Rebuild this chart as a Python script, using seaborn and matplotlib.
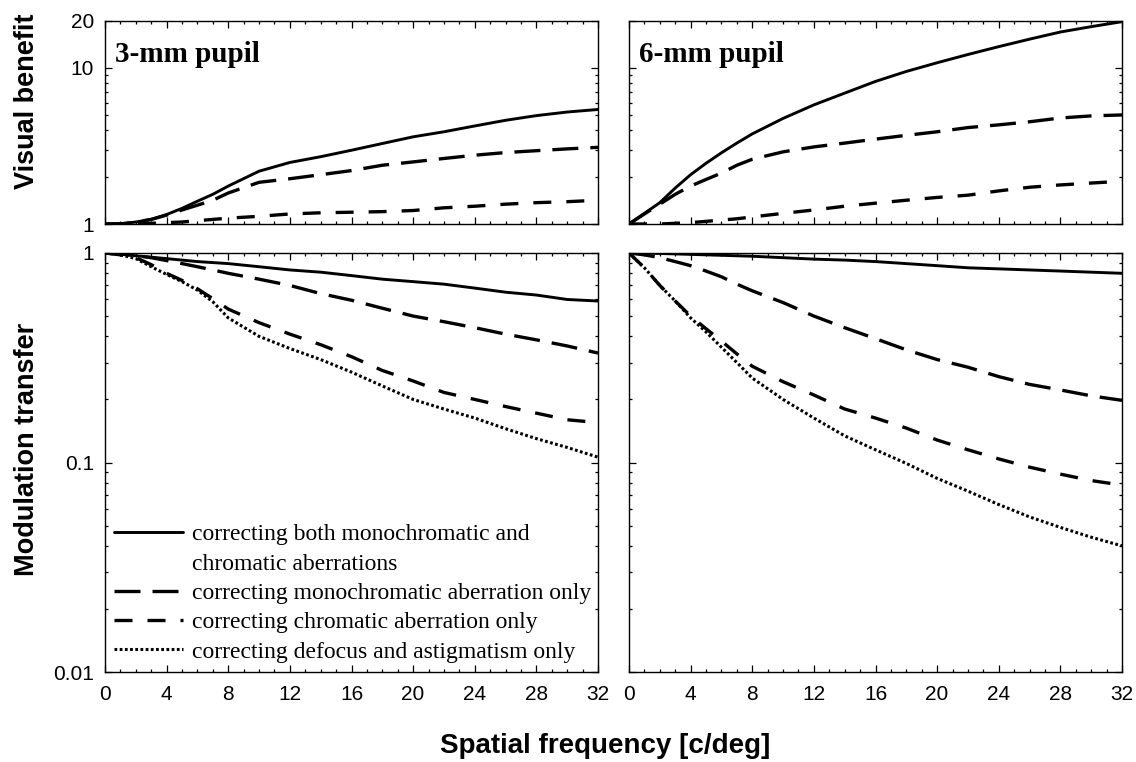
import matplotlib
matplotlib.use("Agg")
import numpy as np
import pandas as pd
import matplotlib.pyplot as plt
from matplotlib.lines import Line2D
from matplotlib.ticker import FixedLocator, FixedFormatter, LogLocator, NullFormatter, MultipleLocator
import seaborn as sns

# ---------------- data ----------------
freq = [0, 1, 2, 3, 4, 5, 6, 7, 8, 10, 12, 14, 16, 18, 20, 22, 24, 26, 28, 30, 32]

series_names = [
    "correcting both monochromatic and\nchromatic aberrations",
    "correcting monochromatic aberration only",
    "correcting chromatic aberration only",
    "correcting defocus and astigmatism only",
]

# Visual benefit, 3-mm pupil
vb3_both = [1.0, 1.0, 1.03, 1.07, 1.15, 1.26, 1.40, 1.55, 1.75, 2.18, 2.48, 2.70, 2.97, 3.28, 3.62, 3.90, 4.25, 4.62, 4.95, 5.22, 5.42]
vb3_mono = [1.0, 1.0, 1.03, 1.07, 1.14, 1.23, 1.32, 1.42, 1.58, 1.85, 1.95, 2.07, 2.20, 2.38, 2.50, 2.63, 2.76, 2.87, 2.95, 3.03, 3.10]
vb3_chrom = [1.0, 1.0, 1.0, 1.01, 1.02, 1.03, 1.05, 1.07, 1.09, 1.12, 1.16, 1.18, 1.19, 1.20, 1.22, 1.27, 1.30, 1.34, 1.37, 1.39, 1.42]

# Visual benefit, 6-mm pupil
vb6_both = [1.0, 1.17, 1.37, 1.70, 2.07, 2.45, 2.86, 3.30, 3.78, 4.75, 5.80, 6.90, 8.20, 9.50, 10.8, 12.2, 13.7, 15.3, 17.0, 18.4, 19.8]
vb6_mono = [1.0, 1.16, 1.34, 1.55, 1.75, 1.93, 2.12, 2.38, 2.60, 2.90, 3.12, 3.30, 3.50, 3.70, 3.90, 4.15, 4.32, 4.52, 4.78, 4.93, 5.00]
vb6_chrom = [1.0, 1.0, 1.0, 1.01, 1.02, 1.04, 1.06, 1.08, 1.11, 1.17, 1.23, 1.30, 1.36, 1.42, 1.48, 1.53, 1.63, 1.72, 1.78, 1.83, 1.88]

# Modulation transfer, 3-mm pupil
mt3_both = [1.0, 0.99, 0.97, 0.955, 0.94, 0.925, 0.91, 0.90, 0.89, 0.86, 0.83, 0.81, 0.78, 0.75, 0.73, 0.71, 0.68, 0.65, 0.63, 0.60, 0.59]
mt3_mono = [1.0, 0.99, 0.97, 0.95, 0.92, 0.89, 0.86, 0.83, 0.80, 0.75, 0.70, 0.64, 0.595, 0.545, 0.50, 0.47, 0.44, 0.41, 0.385, 0.36, 0.333]
mt3_chrom = [1.0, 0.98, 0.95, 0.88, 0.80, 0.74, 0.675, 0.605, 0.54, 0.465, 0.41, 0.365, 0.32, 0.275, 0.245, 0.216, 0.20, 0.185, 0.172, 0.16, 0.155]
mt3_defoc = [1.0, 0.98, 0.94, 0.86, 0.79, 0.73, 0.665, 0.585, 0.49, 0.40, 0.35, 0.31, 0.27, 0.232, 0.20, 0.18, 0.163, 0.145, 0.13, 0.118, 0.106]

# Modulation transfer, 6-mm pupil
mt6_both = [1.0, 0.998, 0.995, 0.99, 0.985, 0.98, 0.975, 0.97, 0.965, 0.95, 0.935, 0.925, 0.91, 0.89, 0.87, 0.85, 0.84, 0.83, 0.82, 0.81, 0.80]
mt6_mono = [1.0, 0.98, 0.95, 0.91, 0.87, 0.82, 0.77, 0.71, 0.66, 0.58, 0.50, 0.44, 0.39, 0.345, 0.31, 0.285, 0.257, 0.236, 0.222, 0.208, 0.198]
mt6_chrom = [1.0, 0.85, 0.70, 0.59, 0.50, 0.435, 0.38, 0.33, 0.288, 0.243, 0.21, 0.18, 0.163, 0.146, 0.128, 0.115, 0.104, 0.095, 0.088, 0.082, 0.078]
mt6_defoc = [1.0, 0.85, 0.70, 0.59, 0.49, 0.42, 0.355, 0.30, 0.253, 0.20, 0.163, 0.134, 0.115, 0.099, 0.084, 0.073, 0.063, 0.055, 0.049, 0.044, 0.040]

panel_titles = ["3-mm pupil", "6-mm pupil"]
x_ticks = [0, 4, 8, 12, 16, 20, 24, 28, 32]
x_ticklabels = ["0", "4", "8", "12", "16", "20", "24", "28", "32"]
vb_ticks = [1, 10, 20]
vb_ticklabels = ["1", "10", "20"]
mt_ticks = [0.01, 0.1, 1]
mt_ticklabels = ["0.01", "0.1", "1"]

# ---------------- build tidy table ----------------
rows = []
panels = {
    ("vb", 0): [vb3_both, vb3_mono, vb3_chrom],
    ("vb", 1): [vb6_both, vb6_mono, vb6_chrom],
    ("mt", 0): [mt3_both, mt3_mono, mt3_chrom, mt3_defoc],
    ("mt", 1): [mt6_both, mt6_mono, mt6_chrom, mt6_defoc],
}
for (kind, col), lst in panels.items():
    for si, vals in enumerate(lst):
        for f, v in zip(freq, vals):
            rows.append({"kind": kind, "col": col, "series": si, "freq": f, "value": v})
df = pd.DataFrame(rows)

# ---------------- styling ----------------
sns.set_theme(style="ticks")
plt.rcParams["font.family"] = ["Liberation Sans", "DejaVu Sans"]
for k in ["text.color", "axes.labelcolor", "xtick.color", "ytick.color", "axes.edgecolor"]:
    plt.rcParams[k] = "black"
serif = ["Liberation Serif", "DejaVu Serif"]

styles = [
    dict(lw=2.1, ls="-"),
    dict(lw=2.4, ls=(0, (7.8, 3.6))),
    dict(lw=2.4, ls=(0, (5.4, 4.5))),
    dict(lw=2.2, ls=(0, (0.9, 0.8))),
]

W, H = 1136, 762
fig = plt.figure(figsize=(W / 100, H / 100), dpi=100)

def ax_rect(x0, x1, ytop, ybot):
    return [x0 / W, 1 - ybot / H, (x1 - x0) / W, (ybot - ytop) / H]

cols_x = [(105, 598), (629, 1122)]
axes = {}
for c, (x0, x1) in enumerate(cols_x):
    axes[("vb", c)] = fig.add_axes(ax_rect(x0, x1, 21, 224))
    axes[("mt", c)] = fig.add_axes(ax_rect(x0, x1, 253, 672))

for (kind, c), ax in axes.items():
    sub = df[(df.kind == kind) & (df.col == c)]
    for si in sorted(sub.series.unique()):
        d = sub[sub.series == si]
        st = styles[si]
        sns.lineplot(data=d, x="freq", y="value", ax=ax, color="black",
                     lw=st["lw"], linestyle=st["ls"], legend=False,
                     estimator=None, sort=False)
    ax.set_yscale("log")
    ax.set_xlim(0, 32)
    if kind == "vb":
        ax.set_ylim(1, 20)
        ax.yaxis.set_major_locator(FixedLocator(vb_ticks))
        ax.yaxis.set_major_formatter(FixedFormatter(vb_ticklabels))
    else:
        ax.set_ylim(0.01, 1)
        ax.yaxis.set_major_locator(FixedLocator(mt_ticks))
        ax.yaxis.set_major_formatter(FixedFormatter(mt_ticklabels))
    ax.yaxis.set_minor_locator(LogLocator(base=10, subs=np.arange(2, 10), numticks=20))
    ax.yaxis.set_minor_formatter(NullFormatter())
    ax.xaxis.set_major_locator(FixedLocator(x_ticks))
    ax.xaxis.set_major_formatter(FixedFormatter(x_ticklabels))
    ax.xaxis.set_minor_locator(MultipleLocator(1))
    ax.set_xlabel("")
    ax.set_ylabel("")
    ax.tick_params(which="both", direction="in", top=True, right=True,
                   bottom=True, left=True, color="black", width=0.9)
    ax.tick_params(which="major", length=5, labelsize=15, pad=8, labelcolor="black")
    ax.tick_params(axis="x", which="major", pad=9)
    ax.tick_params(which="minor", length=2.5)
    for sp in ax.spines.values():
        sp.set_color("black")
        sp.set_linewidth(1.0)
    if kind == "vb":
        ax.tick_params(labelbottom=False)
        ax.text(10 / 493, 1 - 41 / 203, panel_titles[c], transform=ax.transAxes,
                fontsize=21, fontweight="bold", family=serif, va="baseline", ha="left",
                color="black")
    if c == 1:
        ax.tick_params(labelleft=False)

# legend
ax = axes[("mt", 0)]
handles = []
labels = []
first_lines = series_names[0].split("\n")
for si, name in enumerate(series_names):
    st = styles[si]
    if si == 0:
        handles.append(Line2D([], [], color="black", lw=st["lw"], linestyle=st["ls"]))
        labels.append(first_lines[0])
        handles.append(Line2D([], [], color="none", lw=0))
        labels.append(first_lines[1])
    else:
        handles.append(Line2D([], [], color="black", lw=st["lw"], linestyle=st["ls"]))
        labels.append(name)
leg = ax.legend(handles, labels, loc="lower left", frameon=False,
                prop={"family": serif, "size": 17}, handlelength=2.9,
                handletextpad=0.4, labelspacing=0.33, borderaxespad=0.2,
                borderpad=0.2)
for t in leg.get_texts():
    t.set_color("black")

fig.text(27 / W, 1 - 101 / H, "Visual benefit", rotation=90, ha="center", va="center",
         fontsize=19.5, fontweight="bold", color="black")
fig.text(27 / W, 1 - 449 / H, "Modulation transfer", rotation=90, ha="center", va="center",
         fontsize=19.5, fontweight="bold", color="black")
fig.text(605 / W, 1 - 746 / H, "Spatial frequency [c/deg]", ha="center", va="center",
         fontsize=20, fontweight="bold", color="black")

fig.savefig("out.png", dpi=100, facecolor="white")
